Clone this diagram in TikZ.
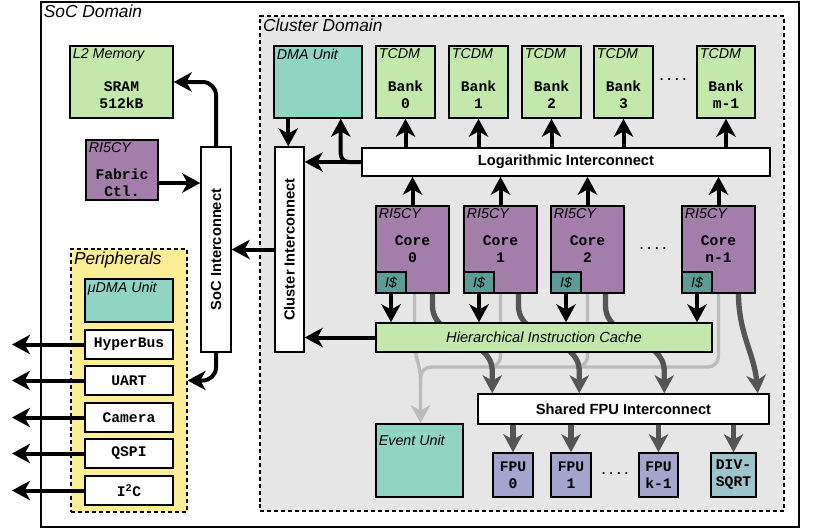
\documentclass[tikz,border=0pt]{standalone}
\usepackage{fontspec}
\setmainfont{Liberation Sans}
\setmonofont{Liberation Mono}
\usetikzlibrary{arrows.meta,fit,calc}
\pgfdeclarelayer{back}
\pgfdeclarelayer{mid}
\pgfsetlayers{back,mid,main}
\definecolor{cgreen}{HTML}{C3E8AC}
\definecolor{cpurple}{HTML}{A37EAA}
\definecolor{cteal}{HTML}{90D4C2}
\definecolor{cicache}{HTML}{5D9B98}
\definecolor{cfpu}{HTML}{A5A4CC}
\definecolor{cdiv}{HTML}{9CC4CC}
\definecolor{cyellow}{HTML}{FCEE96}
\definecolor{cclust}{HTML}{E6E6E6}
\definecolor{cdark}{HTML}{555555}
\definecolor{clight}{HTML}{BBBBBB}
\begin{document}
\begin{tikzpicture}[x=0.75pt,y=-0.75pt,
  rbox/.style={draw=black, line width=1.1pt, inner sep=0pt},
  itlab/.style={font=\itshape\fontsize{10.7}{12}\selectfont, anchor=north west, inner sep=2.5pt},
  domlab/.style={font=\itshape\fontsize{13}{15}\selectfont, anchor=north west, inner sep=2.5pt},
  mono/.style={font=\ttfamily\bfseries\fontsize{11}{12.75}\selectfont, align=center, inner sep=0pt},
  dots/.style={font=\ttfamily\bfseries\fontsize{9.5}{10}\selectfont, inner sep=0pt},
  iclab/.style={font=\bfseries\fontsize{11}{12}\selectfont, inner sep=0pt},
  tip/.style={-{Stealth[length=13.5pt,width=14.5pt,inset=4pt]}},
  blk/.style={line width=3pt, tip},
  dgr/.style={line width=4pt, draw=cdark, tip},
  lgr/.style={line width=2.5pt, draw=clight, rounded corners=8pt},
  lgrarr/.style={lgr, tip}
]
\useasboundingbox (0,0) rectangle (830,529);

% domains
\begin{pgfonlayer}{back}
\node[rbox, fit={(41,2)(799,527)}, fill=white] (socdom) {};
\node[rbox, fit={(260,16)(784,511)}, fill=cclust, line width=0.9pt, dash pattern=on 3pt off 2.2pt] (cldom) {};
\node[rbox, fit={(71,249)(187,512)}, fill=cyellow, line width=0.9pt, dash pattern=on 3pt off 2.2pt] (per) {};
\end{pgfonlayer}
\node[domlab] at (socdom.north west) {SoC Domain};
\node[domlab] at (cldom.north west) {Cluster Domain};
\node[domlab] at (per.north west) {Peripherals};

% SoC side
\node[rbox, fit={(70,46)(173,118)}, fill=cgreen] (l2) {};
\node[itlab] at (l2.north west) {L2 Memory};
\node[mono] at ($(l2.center)+(0,13)$) {SRAM\\512kB};

\node[rbox, fit={(86,140)(158,200)}, fill=cpurple] (fab) {};
\node[itlab] at (fab.north west) {RI5CY};
\node[mono] at ($(fab.center)+(0,13)$) {Fabric\\Ctl.};

\node[rbox, fit={(201,147)(231,352)}, fill=white] (soc) {};
\node[iclab, rotate=90] at (soc.center) {SoC Interconnect};

\node[rbox, fit={(85,279)(173,322)}, fill=cteal] (udma) {};
\node[itlab] at (udma.north west) {μDMA Unit};
\node[rbox, fit={(85,330)(173,359)}, fill=white] (hb) {};
\node[mono] at (hb.center) {HyperBus};
\node[rbox, fit={(85,366)(173,395)}, fill=white] (uart) {};
\node[mono] at (uart.center) {UART};
\node[rbox, fit={(85,403)(173,432)}, fill=white] (cam) {};
\node[mono] at (cam.center) {Camera};
\node[rbox, fit={(85,439)(173,468)}, fill=white] (qspi) {};
\node[mono] at (qspi.center) {QSPI};
\node[rbox, fit={(85,476)(173,505)}, fill=white] (iic) {};
\node[mono] at (iic.center) {I\textsuperscript{2}C};
\coordinate (pout) at (12,0);

% cluster
\node[rbox, fit={(275,147)(304,352)}, fill=white] (cl) {};
\node[iclab, rotate=90] at (cl.center) {Cluster Interconnect};
\node[rbox, fit={(274,46)(362,118)}, fill=cteal] (dma) {};
\node[itlab] at (dma.north west) {DMA Unit};

\node[rbox, fit={(376,46)(435,118)}, fill=cgreen] (b0) {};
\node[rbox, fit={(449,46)(508,118)}, fill=cgreen] (b1) {};
\node[rbox, fit={(522,46)(581,118)}, fill=cgreen] (b2) {};
\node[rbox, fit={(594,46)(653,118)}, fill=cgreen] (b3) {};
\node[rbox, fit={(697,46)(755,118)}, fill=cgreen] (bm) {};
\foreach \b/\t in {b0/0,b1/1,b2/2,b3/3,bm/m-1}{
  \node[itlab] at (\b.north west) {TCDM};
  \node[mono] at ($(\b.center)+(0,13)$) {Bank\\\t};
}
\node[dots] at (673,80) {....};

\node[rbox, fit={(362,148)(770,176)}, fill=white] (log) {};
\node[iclab] at (log.center) {Logarithmic Interconnect};

\node[rbox, fit={(376,206)(449,293)}, fill=cpurple] (c0) {};
\node[rbox, fit={(464,206)(537,293)}, fill=cpurple] (c1) {};
\node[rbox, fit={(551,206)(624,293)}, fill=cpurple] (c2) {};
\node[rbox, fit={(682,206)(755,293)}, fill=cpurple] (c3) {};
\foreach \c/\t in {c0/0,c1/1,c2/2,c3/n-1}{
  \node[itlab] at (\c.north west) {RI5CY};
  \node[mono] at (\c.center) {Core\\\t};
  \node[draw=black, line width=1.1pt, fill=cicache, inner sep=0pt, anchor=south west,
        minimum width=22.5pt, minimum height=15.75pt,
        font=\itshape\fontsize{10.5}{12}\selectfont] (i\c) at (\c.south west) {I\$};
}
\node[dots] at (653,249) {....};

\node[rbox, fit={(376,323)(712,352)}, fill=cgreen] (cache) {};
\node[font=\itshape\fontsize{11}{12}\selectfont, inner sep=0pt] at (cache.center) {Hierarchical Instruction Cache};

\node[rbox, fit={(478,394)(769,424)}, fill=white] (fpuic) {};
\node[iclab] at (fpuic.center) {Shared FPU Interconnect};

\node[rbox, fit={(376,424)(463,497)}, fill=cteal] (ev) {};
\node[itlab] at ($(ev.north west)+(0,8)$) {Event Unit};

\node[rbox, fit={(493,453)(533,497)}, fill=cfpu] (f0) {};
\node[mono] at (f0.center) {FPU\\0};
\node[rbox, fit={(551,453)(591,497)}, fill=cfpu] (f1) {};
\node[mono] at (f1.center) {FPU\\1};
\node[rbox, fit={(639,453)(678,497)}, fill=cfpu] (fk) {};
\node[mono] at (fk.center) {FPU\\k-1};
\node[rbox, fit={(711,453)(756,497)}, fill=cdiv] (ds) {};
\node[mono] at (ds.center) {DIV-\\SQRT};
\node[dots] at (615,474) {....};

% helper coordinates
\coordinate (jy) at (0,367);
\coordinate (c0g) at ($(c0.south)+(2,0)$);
\coordinate (evx) at ($(c0.south)+(8,0)$);
\coordinate (fabo) at ($(fab.east)+(0,13)$);
\coordinate (dmao) at ($(dma.south west)+(15,0)$);
\coordinate (dmai) at ($(dma.south east)+(-22,0)$);
\coordinate (d0s) at ($(c0.south)+(20,0)$);
\coordinate (d1s) at ($(c1.south)+(18,0)$);
\coordinate (d2s) at ($(c2.south)+(18,0)$);
\coordinate (d3s) at ($(c3.south)+(20,0)$);
\coordinate (d0e) at ($(fpuic.north west)+(15,0)$);
\coordinate (d1e) at ($(fpuic.north west)+(102,0)$);
\coordinate (d2e) at ($(fpuic.north west)+(187,0)$);
\coordinate (d3e) at ($(fpuic.north east)+(-12,0)$);

% gray connectors (behind cache)
\begin{pgfonlayer}{mid}
\draw[lgr] (c3.south) -- (c3.south |- jy) -- (evx |- jy) -- ($(evx |- jy)+(0,20)$);
\draw[lgr] (c1.south) -- (c1.south |- jy) -- ($(c1.south |- jy)+(-12,0)$);
\draw[lgr] (c2.south) -- (c2.south |- jy) -- ($(c2.south |- jy)+(-12,0)$);
\draw[lgrarr] (c0g) -- ($(c0g |- jy)+(0,-14)$) -- ($(evx |- jy)+(0,2)$) -- (evx |- ev.north);
\draw[dgr] (d0s) -- ++(0,12) to[out=-90,in=90] ($(d0e)+(0,-22)$) -- (d0e);
\draw[dgr] (d1s) -- ++(0,12) to[out=-90,in=90] ($(d1e)+(0,-22)$) -- (d1e);
\draw[dgr] (d2s) -- ++(0,12) to[out=-90,in=90] ($(d2e)+(0,-22)$) -- (d2e);
\draw[dgr] (d3s) to[out=-90,in=95] (d3e);
\end{pgfonlayer}

% black connectors
\draw[blk, rounded corners=10pt] (soc.north) |- (l2.east);
\draw[blk] (fabo) -- (fabo -| soc.west);
\draw[blk] (cl.west) -- (soc.east);
\draw[blk, rounded corners=10pt] (soc.south) |- (per.east);
\foreach \p in {hb,uart,cam,qspi,iic}{
  \draw[blk] (\p.west) -- (\p.west -| pout);
}
\draw[blk] (dmao) -- (dmao |- cl.north);
\draw[blk] (log.west) -- (log.west -| cl.east);
\draw[blk, rounded corners=6pt] (log.west) -| (dmai);
\foreach \b in {b0,b1,b2,b3,bm}{
  \draw[blk] (\b.south |- log.north) -- (\b.south);
}
\foreach \c in {c0,c1,c2,c3}{
  \draw[blk] (\c.north) -- (\c.north |- log.south);
  \draw[blk] (i\c.south) -- (i\c.south |- cache.north);
}
\draw[blk] (cache.west) -- (cache.west -| cl.east);
\foreach \f in {f0,f1,fk,ds}{
  \draw[dgr] (\f.north |- fpuic.south) -- (\f.north);
}
\end{tikzpicture}
\end{document}
